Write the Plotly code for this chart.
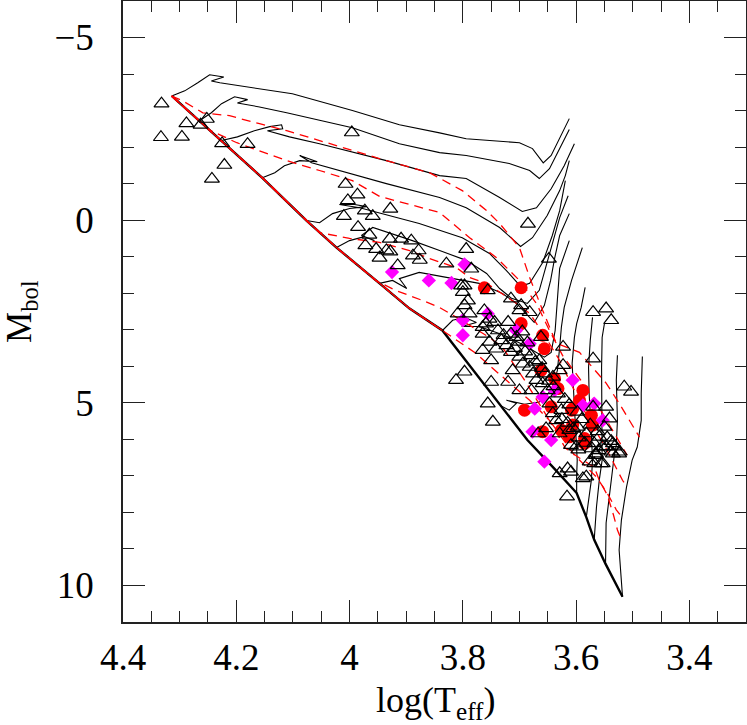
import plotly.graph_objects as go

FONT = "Liberation Serif"

# zero-age main sequence
zams_logt = [4.314, 4.154, 4.076, 4.023, 3.947, 3.894, 3.836, 3.788, 3.734, 3.686, 3.638, 3.599, 3.582, 3.568, 3.548, 3.518]
zams_mbol = [-3.40, -1.16, 0.01, 0.75, 1.73, 2.42, 3.02, 3.97, 5.07, 6.02, 6.81, 7.47, 8.13, 8.75, 9.41, 10.31]

# pre-main-sequence evolutionary tracks (most massive first)
trk1_logt = [4.314, 4.291, 4.268, 4.247, 4.222, 4.244, 4.229, 4.171, 4.101, 3.995, 3.912, 3.841, 3.794, 3.700, 3.677, 3.658, 3.644, 3.612]
trk1_mbol = [-3.40, -3.54, -3.76, -3.98, -3.92, -3.81, -3.76, -3.62, -3.46, -3.00, -2.61, -2.39, -2.23, -2.12, -1.96, -1.57, -1.77, -2.78]
trk2_logt = [4.265, 4.244, 4.226, 4.203, 4.180, 4.198, 4.159, 4.111, 3.995, 3.912, 3.841, 3.794, 3.718, 3.682, 3.665, 3.647, 3.612]
trk2_mbol = [-2.72, -2.94, -3.19, -3.38, -3.30, -3.21, -3.10, -2.94, -2.53, -2.09, -1.85, -1.77, -1.55, -1.36, -1.14, -1.41, -2.48]
trk3_logt = [4.226, 4.198, 4.168, 4.141, 4.120, 4.118, 4.145, 4.106, 4.053, 3.935, 3.841, 3.794, 3.735, 3.695, 3.670, 3.644, 3.621, 3.603]
trk3_mbol = [-2.18, -2.28, -2.45, -2.56, -2.61, -2.50, -2.45, -2.28, -2.09, -1.63, -1.22, -1.14, -0.62, -0.24, -0.34, -0.86, -1.49, -2.09]
trk4_logt = [4.154, 4.132, 4.115, 4.088, 4.057, 4.088, 4.067, 4.018, 3.935, 3.841, 3.794, 3.735, 3.698, 3.677, 3.651, 3.629, 3.619, 3.612]
trk4_mbol = [-1.16, -1.30, -1.49, -1.63, -1.60, -1.77, -1.57, -1.36, -1.00, -0.62, -0.34, 0.20, 0.72, 0.48, -0.13, -0.81, -1.22, -1.63]
trk5_logt = [4.076, 4.053, 4.030, 4.000, 3.970, 3.991, 4.018, 3.982, 3.877, 3.841, 3.801, 3.753, 3.723, 3.698, 3.682, 3.659, 3.642, 3.629, 3.619]
trk5_mbol = [0.01, 0.07, -0.18, -0.32, -0.37, -0.43, -0.43, -0.34, 0.09, 0.28, 0.48, 0.91, 1.38, 1.81, 1.73, 1.16, 0.42, -0.26, -1.08]
trk6_logt = [4.023, 4.000, 3.974, 3.956, 3.979, 3.959, 3.889, 3.841, 3.794, 3.758, 3.735, 3.714, 3.686, 3.665, 3.651, 3.640, 3.629, 3.614]
trk6_mbol = [0.75, 0.56, 0.45, 0.56, 0.42, 0.20, 0.56, 0.83, 1.10, 1.46, 1.87, 2.14, 2.28, 1.92, 1.16, 0.56, -0.07, -0.67]
trk7_logt = [3.947, 3.924, 3.899, 3.912, 3.877, 3.829, 3.771, 3.730, 3.705, 3.674, 3.656, 3.645, 3.638, 3.629, 3.612]
trk7_mbol = [1.73, 1.65, 1.87, 1.60, 1.43, 1.57, 1.73, 2.01, 2.28, 2.80, 2.33, 1.65, 1.05, 0.42, -0.18]
trk8_logt = [3.836, 3.818, 3.797, 3.776, 3.802, 3.771, 3.727, 3.691, 3.656, 3.644, 3.637, 3.633, 3.629, 3.612]
trk8_mbol = [3.02, 2.74, 2.66, 2.80, 2.91, 2.91, 3.15, 3.43, 3.75, 3.62, 3.02, 2.20, 1.32, 0.56]
trk9_logt = [3.734, 3.718, 3.705, 3.723, 3.691, 3.665, 3.644, 3.633, 3.629, 3.626, 3.621, 3.608, 3.589]
trk9_mbol = [5.07, 5.20, 5.01, 4.93, 5.04, 4.98, 4.66, 4.11, 3.48, 2.93, 2.39, 1.65, 0.75]
trk10_logt = [3.584, 3.591, 3.599, 3.603, 3.607, 3.603, 3.598, 3.599, 3.599]
trk10_mbol = [1.84, 2.39, 2.83, 3.21, 3.92, 5.28, 6.57, 6.98, 7.47]
trk11_logt = [3.571, 3.575, 3.578, 3.577, 3.573, 3.571, 3.573, 3.582]
trk11_mbol = [2.66, 3.29, 4.03, 4.74, 5.83, 6.57, 7.11, 8.13]
trk12_logt = [3.550, 3.554, 3.555, 3.554, 3.554, 3.559, 3.564, 3.568]
trk12_mbol = [2.83, 3.21, 4.03, 5.28, 6.57, 7.11, 7.85, 8.75]
trk13_logt = [3.527, 3.529, 3.527, 3.529, 3.533, 3.538, 3.547, 3.548]
trk13_mbol = [3.70, 4.38, 5.48, 6.16, 6.49, 7.11, 8.29, 9.41]
trk14_logt = [3.483, 3.485, 3.485, 3.492, 3.501, 3.511, 3.520, 3.524, 3.518]
trk14_mbol = [3.73, 4.74, 5.48, 6.21, 6.57, 7.31, 8.21, 9.03, 10.31]

# isochrones (youngest first)
iso1_logt = [4.314, 4.295, 4.259, 4.212, 4.159, 4.111, 4.053, 3.995, 3.935, 3.859, 3.801, 3.758, 3.735, 3.700, 3.682, 3.659, 3.635, 3.594, 3.571, 3.547, 3.524, 3.506, 3.488]
iso1_mbol = [-3.40, -3.27, -2.94, -2.86, -2.64, -2.45, -2.18, -1.90, -1.63, -1.30, -0.81, -0.26, 0.09, 0.75, 1.57, 2.47, 3.37, 3.62, 4.03, 4.46, 5.01, 5.48, 5.94]
iso2_logt = [4.314, 4.274, 4.245, 4.199, 4.159, 4.111, 4.053, 3.995, 3.947, 3.894, 3.841, 3.788, 3.741, 3.700, 3.670, 3.647, 3.624, 3.594, 3.564, 3.538, 3.510]
iso2_mbol = [-3.40, -2.86, -2.45, -2.12, -1.90, -1.63, -1.36, -1.08, -0.65, -0.43, -0.21, 0.48, 1.02, 1.65, 2.28, 3.02, 3.70, 4.33, 5.01, 5.69, 6.43]
iso3_logt = [4.314, 4.154, 4.076, 4.053, 4.000, 3.947, 3.894, 3.859, 3.811, 3.788, 3.758, 3.730, 3.705, 3.682, 3.656, 3.629, 3.603, 3.577, 3.550, 3.518, 3.510]
iso3_mbol = [-3.40, -1.16, 0.01, 0.34, 0.50, 0.61, 0.83, 1.05, 1.30, 1.57, 1.73, 2.01, 2.28, 2.55, 3.15, 3.84, 4.66, 5.48, 6.16, 7.12, 7.31]
iso4_logt = [4.314, 4.154, 4.076, 4.023, 3.954, 3.919, 3.871, 3.841, 3.811, 3.783, 3.753, 3.730, 3.691, 3.647, 3.603, 3.564, 3.545, 3.529, 3.518]
iso4_mbol = [-3.40, -1.16, 0.01, 0.75, 1.65, 1.92, 2.20, 2.39, 2.66, 2.93, 3.21, 3.48, 4.38, 5.48, 6.43, 7.03, 7.47, 7.93, 8.15]
iso5_logt = [4.314, 4.154, 4.076, 4.023, 3.947, 3.894, 3.836, 3.779, 3.727, 3.682, 3.647, 3.619, 3.594, 3.568, 3.559, 3.545, 3.534, 3.527, 3.520]
iso5_mbol = [-3.40, -1.16, 0.01, 0.75, 1.73, 2.42, 3.02, 3.62, 4.33, 4.93, 5.48, 6.24, 6.51, 6.76, 7.12, 7.52, 8.07, 8.48, 8.75]

# observed stars: open triangles
tri_logt = [4.332, 4.333, 4.296, 4.288, 4.263, 4.252, 4.225, 4.180, 4.221, 4.243, 3.996,
            4.007, 3.986, 4.003, 3.973, 3.959, 4.010, 3.928, 3.985, 3.965, 3.972, 3.953, 3.947, 3.929, 3.935,
            3.928, 3.909, 3.891, 3.878, 3.888, 3.876, 3.915, 3.685, 3.648, 3.794, 3.829, 3.785, 3.756, 3.797,
            3.803, 3.800, 3.791, 3.797, 3.809, 3.788, 3.762, 3.753, 3.765, 3.765, 3.744, 3.738, 3.720, 3.715,
            3.732, 3.753, 3.741, 3.765, 3.750, 3.723, 3.715, 3.703, 3.700, 3.694, 3.712, 3.682, 3.676, 3.665,
            3.670, 3.659, 3.641, 3.629, 3.623, 3.623, 3.700, 3.682, 3.715, 3.697, 3.570, 3.547, 3.538, 3.570,
            3.797, 3.812, 3.750, 3.720, 3.700, 3.679, 3.756, 3.747, 3.650, 3.647, 3.641, 3.626, 3.635, 3.653,
            3.667, 3.629, 3.612, 3.597, 3.582, 3.570, 3.547, 3.541, 3.550, 3.559, 3.547, 3.535, 3.523, 3.535,
            3.565, 3.576, 3.553, 3.600, 3.609, 3.515, 3.503, 3.582, 3.609, 3.629,
            3.596, 3.615, 3.588, 3.616, 3.568, 3.556, 3.565, 3.538, 3.524, 3.532, 3.553, 3.568,
            3.759, 3.662, 3.690, 3.680, 3.672, 3.660, 3.655, 3.648, 3.640, 3.632, 3.620, 3.612, 3.598, 3.590,
            3.575, 3.562, 3.545, 3.538, 3.560, 3.625, 3.615, 3.605, 3.595, 3.585, 3.572, 3.705, 3.695, 3.728,
            3.708, 3.686]
tri_mbol = [-3.19, -2.27, -2.28, -2.65, -2.61, -2.77, -2.10, -2.08, -1.51, -1.13, -2.40,
            -0.99, -0.70, -0.54, -0.26, -0.11, -0.11, -0.31, 0.19, 0.40, 0.69, 0.79, 1.03, 0.51, 0.83,
            0.86, 0.51, 0.56, 0.83, 0.97, 1.09, 1.24, 0.10, 1.06, 0.79, 1.19, 1.33, 1.92, 1.79,
            1.79, 1.97, 2.20, 2.33, 2.56, 2.56, 2.47, 2.70, 2.93, 3.11, 2.79, 3.02, 2.79, 3.11,
            3.29, 3.33, 3.52, 3.56, 3.84, 3.43, 3.61, 3.33, 3.74, 3.93, 4.11, 4.02, 4.20, 3.84,
            4.38, 4.47, 4.29, 4.11, 3.97, 3.47, 2.47, 2.52, 2.15, 2.33, 2.52, 2.42, 2.74, 3.79,
            4.15, 4.38, 4.43, 4.43, 4.66, 4.66, 5.02, 5.52, 4.66, 5.02, 5.29, 5.20, 5.48, 5.70,
            5.84, 5.84, 5.75, 5.66, 5.84, 5.11, 5.11, 5.43, 5.66, 5.93, 6.20, 6.11, 6.34, 6.39,
            6.39, 6.61, 6.66, 6.20, 6.16, 4.56, 4.70, 7.02, 6.89, 6.93,
            6.28, 6.80, 7.07, 7.57, 6.66, 6.66, 6.43, 6.34, 6.39, 6.20, 6.20, 6.11,
            2.83, 3.20, 3.60, 3.70, 3.88, 4.05, 4.20, 4.40, 4.55, 4.75, 4.90, 5.05, 5.25, 5.45,
            5.60, 5.78, 5.95, 6.05, 6.30, 5.45, 5.55, 5.70, 5.95, 6.10, 6.25, 3.20, 3.05, 3.15,
            3.50, 3.35]

# filled red circles
red_logt = [3.762, 3.697, 3.697, 3.659, 3.656, 3.662, 3.638, 3.632, 3.588, 3.606, 3.691, 3.573, 3.606, 3.571,
            3.626, 3.659, 3.585, 3.612, 3.594, 3.644, 3.608, 3.585]
red_mbol = [1.85, 1.85, 2.83, 3.15, 3.52, 4.11, 4.34, 4.61, 4.66, 5.16, 5.20, 5.34, 5.61, 5.61,
            5.75, 5.79, 5.98, 5.93, 4.93, 5.11, 5.20, 6.11]

# magenta diamonds
mag_logt = [3.925, 3.860, 3.797, 3.820, 3.800, 3.800, 3.756, 3.706, 3.682, 3.638, 3.606, 3.659, 3.673,
            3.644, 3.677, 3.568, 3.588, 3.553, 3.656]
mag_mbol = [1.42, 1.65, 1.21, 1.72, 2.74, 3.15, 2.56, 3.02, 3.38, 4.66, 4.38, 4.84, 5.16,
            6.02, 5.79, 5.02, 5.07, 5.48, 6.61]

tracks = [
    (trk1_logt, trk1_mbol), (trk2_logt, trk2_mbol), (trk3_logt, trk3_mbol), (trk4_logt, trk4_mbol),
    (trk5_logt, trk5_mbol), (trk6_logt, trk6_mbol), (trk7_logt, trk7_mbol), (trk8_logt, trk8_mbol),
    (trk9_logt, trk9_mbol), (trk10_logt, trk10_mbol), (trk11_logt, trk11_mbol), (trk12_logt, trk12_mbol),
    (trk13_logt, trk13_mbol), (trk14_logt, trk14_mbol),
]
isochrones = [(iso1_logt, iso1_mbol), (iso2_logt, iso2_mbol), (iso3_logt, iso3_mbol),
              (iso4_logt, iso4_mbol), (iso5_logt, iso5_mbol)]

fig = go.Figure()

for lt, mb in tracks:
    fig.add_trace(go.Scatter(x=lt, y=mb, mode='lines', line=dict(color='black', width=1.1), hoverinfo='skip'))

fig.add_trace(go.Scatter(x=zams_logt, y=zams_mbol, mode='lines', line=dict(color='black', width=2.4), name='ZAMS'))
fig.add_trace(go.Scatter(x=zams_logt[:7], y=zams_mbol[:7], mode='lines', line=dict(color='red', width=1.3), hoverinfo='skip'))

for lt, mb in isochrones:
    fig.add_trace(go.Scatter(x=lt, y=mb, mode='lines', line=dict(color='red', width=1.3, dash='9px,6px'), hoverinfo='skip'))

fig.add_trace(go.Scatter(x=red_logt, y=red_mbol, mode='markers', marker=dict(symbol='circle', size=13, color='red', line=dict(width=0)),
                         hovertemplate='log T: %{x}<br>Mbol: %{y}<extra></extra>'))
fig.add_trace(go.Scatter(x=mag_logt, y=mag_mbol, mode='markers', marker=dict(symbol='diamond', size=11, color='#ff00ff', line=dict(width=0)),
                         hovertemplate='log T: %{x}<br>Mbol: %{y}<extra></extra>'))
fig.add_trace(go.Scatter(x=tri_logt, y=tri_mbol, mode='markers', marker=dict(symbol='triangle-up-open', size=13, color='black', line=dict(width=1.2)),
                         hovertemplate='log T: %{x}<br>Mbol: %{y}<extra></extra>'))

axis_common = dict(showline=True, linecolor='#222', linewidth=1.5, mirror='allticks', ticks='inside', tickwidth=1.2,
                   tickcolor='#222', ticklen=22, showgrid=False, zeroline=False, automargin=False,
                   tickfont=dict(size=37, family=FONT, color='black'))

fig.update_xaxes(range=[4.4, 3.3], tickmode='linear', tick0=3.4, dtick=0.2, ticklabelstandoff=2,
                 minor=dict(ticks='inside', ticklen=11, dtick=0.05, tick0=3.4, tickwidth=1.2, tickcolor='#222'),
                 **axis_common)
fig.update_yaxes(range=[11, -6], tickmode='linear', tick0=0, dtick=5, ticklabelstandoff=20,
                 minor=dict(ticks='inside', ticklen=11, dtick=1, tick0=0, tickwidth=1.2, tickcolor='#222'),
                 **axis_common)

# axis titles placed as paper-anchored text
fig.add_annotation(text='log(T<sub>eff</sub>)', xref='paper', yref='paper', x=0.501, y=-0.129,
                   xanchor='center', yanchor='middle', showarrow=False, font=dict(size=36, family=FONT, color='black'))
fig.add_annotation(text='M<sub>bol</sub>', xref='paper', yref='paper', x=-0.163, y=0.5, textangle=-90,
                   xanchor='center', yanchor='middle', showarrow=False, font=dict(size=35, family=FONT, color='black'))

fig.update_layout(width=747, height=725, margin=dict(l=123, r=1, t=1, b=103), showlegend=False,
                  paper_bgcolor='white', plot_bgcolor='white', font=dict(family=FONT, color='black'))

fig.write_html("out.html", config={'displayModeBar': False}, post_script="document.body.style.margin='0px';")
